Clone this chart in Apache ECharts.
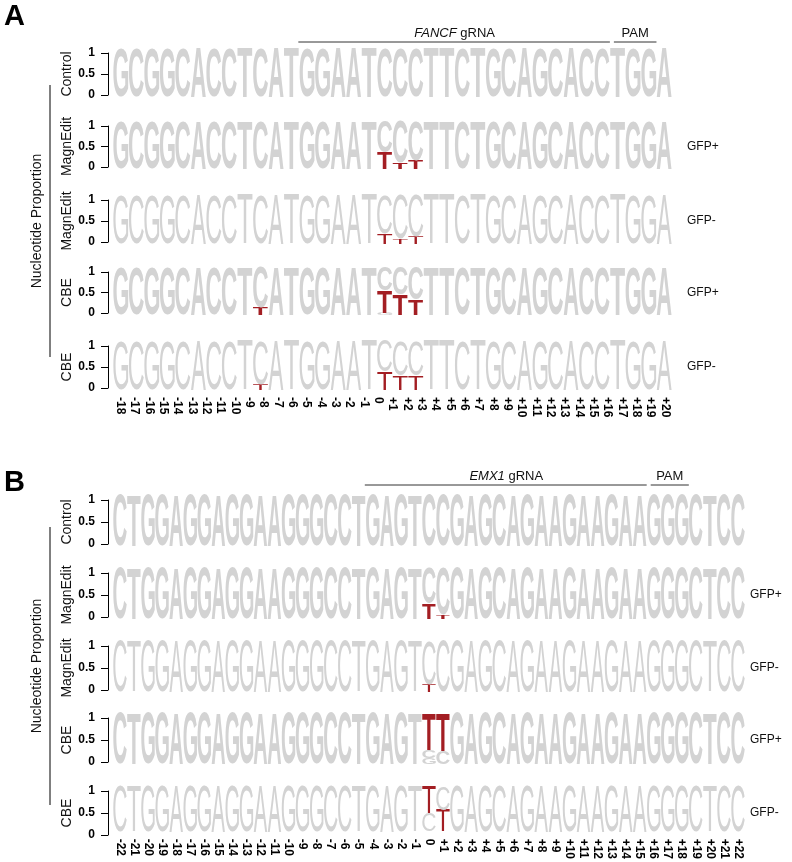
<!DOCTYPE html>
<html><head><meta charset="utf-8">
<script src="https://cdn.jsdelivr.net/npm/echarts@6/dist/echarts.min.js"></script>
<style>html,body{margin:0;padding:0;background:#fff}#c{width:792px;height:862px}</style>
</head><body><div id="c"></div>
<script>
// ---------------- data ----------------
const seqA = 'GCGGCACCTCATGGAATCCCTTCTGCAGCACCTGGA'.split('');
const ticksA = ['-18','-17','-16','-15','-14','-13','-12','-11','-10','-9','-8','-7','-6','-5','-4','-3','-2','-1','0',
  '+1','+2','+3','+4','+5','+6','+7','+8','+9','+10','+11','+12','+13','+14','+15','+16','+17','+18','+19','+20'];
const seqB = 'CTGGAGGAGGAAGGGCCTGAGTCCGAGCAGAAGAAGAAGGGCTCC'.split('');
const ticksB = ['-22','-21','-20','-19','-18','-17','-16','-15','-14','-13','-12','-11','-10','-9','-8','-7','-6','-5','-4','-3','-2','-1','0',
  '+1','+2','+3','+4','+5','+6','+7','+8','+9','+10','+11','+12','+13','+14','+15','+16','+17','+18','+19','+20','+21','+22'];
const rowNames = ['Control', 'MagnEdit', 'MagnEdit', 'CBE', 'CBE'];
const rowGroups = ['', 'GFP+', 'GFP-', 'GFP+', 'GFP-'];
const gRNA_A = {name: 'FANCF', from: 12, to: 31, pamFrom: 32, pamTo: 34};
const gRNA_B = {name: 'EMX1', from: 18, to: 37, pamFrom: 38, pamTo: 40};
// non-reference bases per row: [position index, base, proportion]
const editsA_control = [];
const editsA_magnPos = [[17, 'T', 0.34], [18, 'T', 0.13], [19, 'T', 0.18]];
const editsA_magnNeg = [[17, 'T', 0.22], [18, 'T', 0.10], [19, 'T', 0.15]];
const editsA_cbePos  = [[9, 'T', 0.15], [17, 'T', 0.47], [18, 'T', 0.42], [19, 'T', 0.33], [17, 'G', 0.04]];
const editsA_cbeNeg  = [[9, 'T', 0.12], [17, 'T', 0.37], [18, 'T', 0.30], [19, 'T', 0.30]];
const editsB_control = [];
const editsB_magnPos = [[22, 'T', 0.31], [23, 'T', 0.08]];
const editsB_magnNeg = [[22, 'T', 0.15]];
const editsB_cbePos  = [[22, 'T', 0.72], [23, 'T', 0.74], [22, 'G', 0.12]];
const editsB_cbeNeg  = [[22, 'T', 0.60], [23, 'T', 0.47]];

// ---------------- layout ----------------
const GRAY = '#d3d3d3', RED = '#a31e23';
const heavyRows = [true, true, false, true, false];
const panels = [
  {seq: seqA, ticks: ticksA, g: gRNA_A, left: 113, width: 559,
   axisTop: [53, 126, 200, 272, 346], axisBottom: [95, 167, 242, 313, 388],
   rows: [editsA_control, editsA_magnPos, editsA_magnNeg, editsA_cbePos, editsA_cbeNeg],
   letter: 'A', letterY: 2, lineY: 42, bracket: [85, 357], gfpX: 687},
  {seq: seqB, ticks: ticksB, g: gRNA_B, left: 113, width: 632,
   axisTop: [500, 573, 646, 718, 791], axisBottom: [544, 617, 690, 762, 835],
   rows: [editsB_control, editsB_magnPos, editsB_magnNeg, editsB_cbePos, editsB_cbeNeg],
   letter: 'B', letterY: 468, lineY: 485, bracket: [527, 805], gfpX: 750}
];

const FONTS = ["100px 'Liberation Sans'", "bold 100px 'Liberation Sans'"];
const mctx = document.createElement('canvas').getContext('2d');
const BASES = ['A', 'C', 'G', 'T'];
const metrics = FONTS.map(f => {
  mctx.font = f; mctx.textBaseline = 'middle'; mctx.textAlign = 'left';
  const res = {};
  BASES.forEach(b => {
    const m = mctx.measureText(b);
    res[b] = {left: -m.actualBoundingBoxLeft, right: m.actualBoundingBoxRight,
              top: -m.actualBoundingBoxAscent, bottom: m.actualBoundingBoxDescent};
  });
  return res;
});

function buildStack(seq, edits) {
  const out = [];
  seq.forEach((ref, i) => {
    const props = {};
    let other = 0;
    edits.filter(e => e[0] === i).forEach(e => { props[e[1]] = e[2]; other += e[2]; });
    props[ref] = 1 - other;
    const items = Object.keys(props).map(b => [b, props[b]]).sort((a, b) => a[1] - b[1]);
    let acc = 0;
    items.forEach(([b, p]) => {
      out.push([i, acc, acc + p, BASES.indexOf(b), (b !== ref && b === 'T') ? 1 : 0]);
      acc += p;
    });
  });
  return out;
}

function makeRenderer(fi) {
  return function (params, api) {
    const idx = api.value(0), lo = api.value(1), hi = api.value(2);
    const base = BASES[api.value(3)];
    const red = api.value(4) === 1;
    const p0 = api.coord([idx, lo]), p1 = api.coord([idx, hi]);
    const bw = api.size([1, 0])[0];
    const w = bw * 0.96;
    const h = p0[1] - p1[1];
    if (h < 0.4) return null;
    const m = metrics[fi][base];
    const sx = w / (m.right - m.left), sy = h / (m.bottom - m.top);
    return {
      type: 'text', silent: true,
      x: p0[0] - w / 2 - sx * m.left, y: p1[1] - sy * m.top, scaleX: sx, scaleY: sy,
      style: {text: base, font: FONTS[fi], fill: red ? RED : GRAY, align: 'left', verticalAlign: 'middle'}
    };
  };
}

const grid = [], xAxis = [], yAxis = [], series = [], graphic = [], tickAxes = [];
const LABEL_FONT = 'Liberation Sans';
panels.forEach((P, pi) => {
  const bwp = P.width / P.seq.length;
  P.rows.forEach((edits, r) => {
    const t = P.axisTop[r], b = P.axisBottom[r];
    // axis-only grid (ticks 0, 0.5, 1)
    const ai = grid.length;
    grid.push({left: P.left, top: t, width: P.width, height: b - t});
    xAxis.push({gridIndex: ai, type: 'category', data: P.seq, show: false});
    yAxis.push({gridIndex: ai, type: 'value', min: 0, max: 1, interval: 0.5, offset: 5,
      axisLine: {show: true, lineStyle: {color: '#000', width: 1}},
      axisTick: {show: true, length: 7, lineStyle: {color: '#000'}},
      splitLine: {show: false},
      axisLabel: {fontSize: 12, fontWeight: 'bold', color: '#000', margin: 13, fontFamily: LABEL_FONT,
        formatter: v => (v === 0.5 ? '0.5' : String(v))}});
    // letter grid (glyph box slightly taller than the axis span)
    const gi = grid.length;
    grid.push({left: P.left, top: t - 5, width: P.width, height: b - t + 7});
    xAxis.push({gridIndex: gi, type: 'category', data: P.seq, show: false});
    yAxis.push({gridIndex: gi, type: 'value', min: 0, max: 1, show: false, splitLine: {show: false}});
    series.push({type: 'custom', xAxisIndex: gi, yAxisIndex: gi, renderItem: makeRenderer(heavyRows[r] ? 1 : 0),
      clip: false, data: buildStack(P.seq, edits), animation: false});
    const cy = (t + b) / 2;
    graphic.push({type: 'text', x: 67, y: cy, rotation: Math.PI / 2,
      style: {text: rowNames[r], font: "14px 'Liberation Sans'", fill: '#111', align: 'center', verticalAlign: 'middle'}});
    if (rowGroups[r]) graphic.push({type: 'text', x: P.gfpX, y: cy,
      style: {text: rowGroups[r], font: "12px 'Liberation Sans'", fill: '#111', align: 'left', verticalAlign: 'middle'}});
    if (r === P.rows.length - 1) {
      tickAxes.push({gridIndex: gi, type: 'category', data: P.ticks, position: 'bottom',
        axisLine: {show: false}, axisTick: {show: false},
        axisLabel: {rotate: -90, interval: 0, fontSize: 12, fontWeight: 'bold', color: '#000', margin: 7, fontFamily: LABEL_FONT}});
    }
  });
  graphic.push({type: 'text', x: 4, y: P.letterY,
    style: {text: P.letter, font: "bold 29px 'Liberation Sans'", fill: '#000', align: 'left', verticalAlign: 'top'}});
  const gx0 = P.left + P.g.from * bwp, gx1 = P.left + (P.g.to + 1) * bwp;
  const px0 = P.left + P.g.pamFrom * bwp, px1 = P.left + (P.g.pamTo + 1) * bwp;
  graphic.push({type: 'line', shape: {x1: gx0 - 1, y1: P.lineY, x2: gx1, y2: P.lineY}, style: {stroke: '#333', lineWidth: 1}});
  graphic.push({type: 'line', shape: {x1: px0 + 4, y1: P.lineY, x2: px1, y2: P.lineY}, style: {stroke: '#333', lineWidth: 1}});
  graphic.push({type: 'text', x: (gx0 + gx1) / 2, y: P.lineY - 9,
    style: {text: '{i|' + P.g.name + '} gRNA', font: "13px 'Liberation Sans'", fill: '#111', align: 'center', verticalAlign: 'middle',
      rich: {i: {fontStyle: 'italic', fontSize: 13, fontFamily: LABEL_FONT, fill: '#111'}}}});
  graphic.push({type: 'text', x: (px0 + 4 + px1) / 2, y: P.lineY - 9,
    style: {text: 'PAM', font: "13px 'Liberation Sans'", fill: '#111', align: 'center', verticalAlign: 'middle'}});
  graphic.push({type: 'line', shape: {x1: 50, y1: P.bracket[0], x2: 50, y2: P.bracket[1]}, style: {stroke: '#000', lineWidth: 1}});
  graphic.push({type: 'text', x: 37, y: (P.bracket[0] + P.bracket[1]) / 2, rotation: Math.PI / 2,
    style: {text: 'Nucleotide Proportion', font: "14px 'Liberation Sans'", fill: '#111', align: 'center', verticalAlign: 'middle'}});
});
tickAxes.forEach(a => xAxis.push(a));

const chart = echarts.init(document.getElementById('c'), null, {renderer: 'canvas'});
chart.setOption({animation: false, backgroundColor: '#fff', grid, xAxis, yAxis, series, graphic});
</script></body></html>
